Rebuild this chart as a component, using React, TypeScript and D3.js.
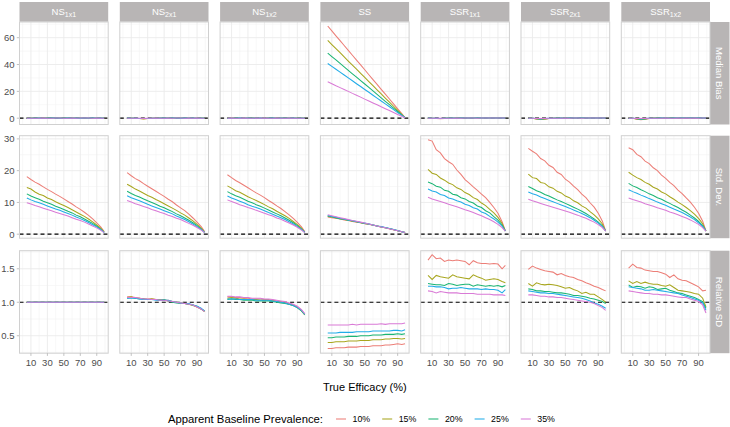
import React from "react";
import * as d3 from "d3";

// ---------- data ----------
const xs = [5, 10, 15, 20, 25, 30, 35, 40, 45, 50, 55, 60, 65, 70, 75, 80, 85, 90, 95, 99];
const panelNames = ["NS", "NS", "NS", "SS", "SSR", "SSR", "SSR"];
const panelSubs = ["1x1", "2x1", "1x2", "", "1x1", "2x1", "1x2"];
const rowNames = ["Median Bias", "Std. Dev.", "Relative SD"];
const prevalence = ["10%", "15%", "20%", "25%", "35%"];
const seriesColors = ["#EC7E77", "#A8A61E", "#1BB574", "#22ACE8", "#D97AD6"];

const yTicksBias = [0, 20, 40, 60];
const yTicksSD = [0, 10, 20, 30];
const yTicksRel = [0.5, 1.0, 1.5];
const xTicks = [10, 30, 50, 70, 90];

// Median Bias
const biasNS1x1 = [
  [0.1, 0.0, 0.1, 0.0, 0.1, 0.2, 0.1, 0.3, 0.2, 0.1, 0.0, 0.2, 0.1, 0.2, 0.1, 0.1, 0.0, 0.1, 0.1, 0.0],
  [0.0, 0.1, 0.0, 0.1, 0.2, 0.1, 0.3, 0.4, 0.3, 0.2, 0.1, 0.1, 0.2, 0.1, 0.0, 0.1, 0.1, 0.0, 0.1, 0.0],
  [-0.1, 0.0, 0.1, 0.0, 0.0, 0.1, 0.2, 0.1, 0.0, 0.1, 0.2, 0.1, 0.0, 0.1, 0.1, 0.0, 0.1, 0.1, 0.0, 0.0],
  [0.0, -0.1, 0.0, 0.1, 0.0, 0.0, 0.1, 0.2, 0.1, 0.0, 0.1, 0.0, 0.1, 0.0, 0.1, 0.2, 0.1, 0.0, 0.1, 0.0],
  [0.0, 0.0, -0.1, 0.0, 0.1, 0.0, 0.0, 0.1, 0.1, 0.0, 0.0, 0.1, 0.0, 0.1, 0.2, 0.1, 0.0, 0.1, 0.0, 0.0],
];
const biasNS2x1 = [
  [0.1, 0.0, -0.1, -0.2, -0.4, -0.3, -0.1, 0.0, 0.1, 0.0, 0.2, 0.1, 0.3, 0.2, 0.1, 0.1, 0.0, 0.1, 0.0, 0.0],
  [0.0, 0.1, -0.2, -0.3, -0.5, -0.2, 0.0, 0.1, 0.0, 0.1, 0.1, 0.2, 0.1, 0.1, 0.2, 0.0, 0.1, 0.0, 0.1, 0.0],
  [0.0, -0.1, -0.1, -0.2, -0.3, -0.2, -0.1, 0.0, 0.1, 0.0, 0.1, 0.1, 0.0, 0.2, 0.1, 0.1, 0.0, 0.0, 0.1, 0.0],
  [0.1, 0.0, 0.0, -0.2, -0.3, -0.2, 0.0, 0.0, 0.0, 0.1, 0.0, 0.1, 0.1, 0.0, 0.1, 0.0, 0.1, 0.0, 0.0, 0.0],
  [0.0, 0.0, -0.1, -0.1, -0.2, -0.1, 0.0, 0.1, 0.0, 0.0, 0.1, 0.0, 0.1, 0.1, 0.0, 0.1, 0.0, 0.1, 0.0, 0.0],
];
const biasNS1x2 = [
  [0.1, 0.2, 0.0, -0.1, 0.1, 0.2, 0.1, 0.0, 0.1, 0.2, 0.1, 0.0, 0.1, 0.2, 0.1, 0.0, 0.1, 0.0, 0.1, 0.0],
  [0.0, 0.1, 0.2, 0.0, -0.1, 0.1, 0.2, 0.1, 0.0, 0.1, 0.0, 0.1, 0.2, 0.1, 0.0, 0.1, 0.0, 0.1, 0.0, 0.0],
  [0.0, 0.0, 0.1, 0.1, 0.0, 0.0, 0.1, 0.1, 0.0, 0.0, 0.1, 0.1, 0.0, 0.0, 0.1, 0.1, 0.0, 0.0, 0.1, 0.0],
  [-0.1, 0.0, 0.0, 0.1, 0.0, 0.1, 0.0, 0.0, 0.1, 0.0, 0.0, 0.1, 0.0, 0.1, 0.0, 0.0, 0.1, 0.0, 0.0, 0.0],
  [0.0, 0.1, 0.0, 0.0, 0.1, 0.0, 0.0, 0.1, 0.0, 0.1, 0.0, 0.0, 0.1, 0.0, 0.0, 0.1, 0.0, 0.0, 0.0, 0.0],
];
const biasSS = [
  [68.7, 65.1, 61.4, 57.8, 54.2, 50.6, 46.9, 43.3, 39.7, 36.1, 32.4, 28.8, 25.2, 21.5, 17.9, 14.3, 10.7, 7.0, 3.4, 0.5],
  [58.0, 54.9, 51.9, 48.8, 45.7, 42.6, 39.6, 36.5, 33.4, 30.4, 27.3, 24.2, 21.2, 18.1, 15.0, 12.0, 8.9, 5.8, 2.8, 0.3],
  [48.5, 45.9, 43.4, 40.8, 38.3, 35.7, 33.1, 30.6, 28.0, 25.5, 22.9, 20.3, 17.8, 15.2, 12.6, 10.1, 7.5, 5.0, 2.4, 0.3],
  [40.8, 38.6, 36.5, 34.3, 32.2, 30.0, 27.9, 25.7, 23.6, 21.4, 19.3, 17.1, 15.0, 12.8, 10.7, 8.5, 6.4, 4.2, 2.1, 0.3],
  [27.1, 25.7, 24.2, 22.8, 21.4, 20.0, 18.5, 17.1, 15.7, 14.2, 12.8, 11.4, 10.0, 8.5, 7.1, 5.7, 4.3, 2.8, 1.4, 0.2],
];
const biasSSR1x1 = [
  [0.2, 0.0, -0.2, -0.4, -0.2, 0.1, 0.0, 0.2, 0.1, 0.3, 0.2, 0.1, 0.3, 0.2, 0.1, 0.2, 0.3, 0.2, 0.4, 0.3],
  [0.1, -0.1, -0.3, -0.3, -0.1, 0.0, 0.1, 0.1, 0.2, 0.1, 0.2, 0.2, 0.1, 0.2, 0.2, 0.1, 0.2, 0.3, 0.2, 0.2],
  [0.0, 0.0, -0.2, -0.2, 0.0, 0.1, 0.0, 0.1, 0.1, 0.2, 0.1, 0.1, 0.2, 0.1, 0.1, 0.2, 0.1, 0.2, 0.2, 0.1],
  [0.1, 0.0, -0.1, -0.2, 0.0, 0.0, 0.1, 0.0, 0.1, 0.1, 0.1, 0.2, 0.1, 0.1, 0.2, 0.1, 0.1, 0.1, 0.2, 0.1],
  [0.0, 0.0, -0.1, -0.1, 0.0, 0.0, 0.0, 0.1, 0.0, 0.1, 0.1, 0.1, 0.0, 0.1, 0.1, 0.1, 0.1, 0.1, 0.1, 0.1],
];
const biasSSR2x1 = [
  [0.2, 0.0, -0.6, -0.9, -0.7, -0.3, 0.0, 0.1, 0.0, 0.2, 0.1, 0.2, 0.1, 0.2, 0.3, 0.2, 0.3, 0.2, 0.3, 0.4],
  [0.1, -0.1, -0.5, -0.8, -0.6, -0.2, 0.0, 0.0, 0.1, 0.1, 0.2, 0.1, 0.2, 0.1, 0.2, 0.2, 0.1, 0.2, 0.2, 0.3],
  [0.0, -0.1, -0.4, -0.6, -0.4, -0.2, 0.0, 0.1, 0.0, 0.1, 0.1, 0.1, 0.1, 0.2, 0.1, 0.1, 0.2, 0.1, 0.2, 0.2],
  [0.0, 0.0, -0.3, -0.5, -0.3, -0.1, 0.0, 0.0, 0.1, 0.0, 0.1, 0.1, 0.1, 0.1, 0.1, 0.2, 0.1, 0.1, 0.1, 0.2],
  [0.0, 0.0, -0.2, -0.3, -0.2, -0.1, 0.0, 0.0, 0.0, 0.1, 0.0, 0.1, 0.1, 0.0, 0.1, 0.1, 0.1, 0.1, 0.1, 0.1],
];
const biasSSR1x2 = [
  [0.3, 0.0, -0.7, -1.1, -0.8, -0.2, 0.0, 0.2, 0.1, 0.2, 0.1, 0.2, 0.3, 0.2, 0.2, 0.3, 0.2, 0.3, 0.2, 0.3],
  [0.1, -0.1, -0.6, -0.9, -0.6, -0.2, 0.1, 0.1, 0.0, 0.1, 0.2, 0.1, 0.2, 0.2, 0.1, 0.2, 0.2, 0.1, 0.2, 0.2],
  [0.0, -0.1, -0.4, -0.7, -0.5, -0.1, 0.0, 0.1, 0.1, 0.0, 0.1, 0.1, 0.1, 0.1, 0.2, 0.1, 0.1, 0.2, 0.1, 0.2],
  [0.0, 0.0, -0.3, -0.5, -0.3, -0.1, 0.0, 0.0, 0.1, 0.1, 0.0, 0.1, 0.1, 0.1, 0.1, 0.1, 0.1, 0.1, 0.1, 0.1],
  [0.0, 0.0, -0.2, -0.3, -0.2, 0.0, 0.0, 0.0, 0.0, 0.1, 0.0, 0.0, 0.1, 0.0, 0.1, 0.0, 0.1, 0.0, 0.1, 0.1],
];

// Std. Dev.
const sdNS1x1 = [
  [18.1, 17.2, 16.4, 15.7, 14.9, 14.1, 13.4, 12.6, 11.9, 11.1, 10.3, 9.5, 8.6, 7.8, 6.9, 5.9, 4.8, 3.6, 2.2, 0.8],
  [14.7, 14.2, 13.3, 12.6, 12.2, 11.4, 10.9, 10.2, 9.6, 9.0, 8.4, 7.7, 7.0, 6.3, 5.6, 4.8, 3.9, 2.9, 1.8, 0.7],
  [12.7, 12.0, 11.5, 11.0, 10.4, 9.9, 9.4, 8.8, 8.3, 7.8, 7.2, 6.7, 6.0, 5.5, 4.8, 4.1, 3.4, 2.5, 1.5, 0.6],
  [11.4, 10.8, 10.3, 9.9, 9.4, 8.9, 8.4, 7.9, 7.5, 7.0, 6.5, 6.0, 5.4, 4.9, 4.3, 3.7, 3.0, 2.3, 1.4, 0.5],
  [9.9, 9.5, 9.0, 8.6, 8.2, 7.8, 7.4, 6.9, 6.5, 6.1, 5.7, 5.2, 4.7, 4.3, 3.8, 3.2, 2.6, 2.0, 1.2, 0.5],
];
const sdNS2x1 = [
  [19.4, 18.4, 17.5, 16.8, 15.9, 15.1, 14.3, 13.5, 12.7, 11.9, 11.0, 10.2, 9.2, 8.3, 7.4, 6.3, 5.1, 3.8, 2.4, 0.9],
  [15.7, 15.0, 14.2, 13.6, 12.9, 12.2, 11.6, 10.9, 10.3, 9.6, 8.9, 8.2, 7.5, 6.7, 6.0, 5.1, 4.2, 3.1, 1.9, 0.7],
  [13.5, 12.8, 12.2, 11.7, 11.1, 10.5, 10.0, 9.4, 8.8, 8.3, 7.7, 7.1, 6.4, 5.8, 5.1, 4.4, 3.6, 2.7, 1.6, 0.6],
  [12.1, 11.5, 11.0, 10.5, 10.0, 9.4, 8.9, 8.4, 7.9, 7.4, 6.9, 6.4, 5.7, 5.2, 4.6, 3.9, 3.2, 2.4, 1.5, 0.6],
  [10.6, 10.1, 9.6, 9.2, 8.7, 8.3, 7.8, 7.4, 6.9, 6.5, 6.0, 5.6, 5.0, 4.6, 4.0, 3.4, 2.8, 2.1, 1.3, 0.5],
];
const sdNS1x2 = [
  [18.7, 17.8, 16.9, 16.2, 15.4, 14.6, 13.8, 13.0, 12.3, 11.5, 10.6, 9.8, 8.9, 8.1, 7.1, 6.1, 5.0, 3.7, 2.3, 0.8],
  [15.2, 14.5, 13.7, 13.2, 12.5, 11.8, 11.2, 10.6, 10.0, 9.3, 8.6, 8.0, 7.2, 6.5, 5.8, 5.0, 4.0, 3.0, 1.9, 0.7],
  [13.4, 12.7, 12.1, 11.6, 11.0, 10.4, 9.9, 9.3, 8.8, 8.2, 7.6, 7.0, 6.4, 5.8, 5.1, 4.4, 3.6, 2.7, 1.6, 0.6],
  [12.0, 11.4, 10.9, 10.4, 9.9, 9.3, 8.8, 8.4, 7.9, 7.4, 6.8, 6.3, 5.7, 5.2, 4.6, 3.9, 3.2, 2.4, 1.5, 0.6],
  [10.8, 10.3, 9.8, 9.3, 8.9, 8.4, 8.0, 7.5, 7.1, 6.6, 6.1, 5.7, 5.1, 4.7, 4.1, 3.5, 2.9, 2.2, 1.3, 0.5],
];
const sdSS = [
  [5.4, 5.2, 5.0, 4.8, 4.5, 4.3, 4.0, 3.8, 3.6, 3.3, 3.1, 2.8, 2.6, 2.3, 2.0, 1.7, 1.4, 1.1, 0.8, 0.5],
  [5.6, 5.4, 5.1, 4.9, 4.6, 4.4, 4.1, 3.9, 3.6, 3.4, 3.1, 2.9, 2.6, 2.3, 2.0, 1.7, 1.4, 1.1, 0.8, 0.5],
  [5.7, 5.5, 5.2, 4.9, 4.7, 4.4, 4.2, 3.9, 3.7, 3.4, 3.2, 2.9, 2.6, 2.3, 2.0, 1.8, 1.5, 1.1, 0.8, 0.5],
  [5.9, 5.6, 5.3, 5.0, 4.8, 4.5, 4.2, 4.0, 3.7, 3.5, 3.2, 2.9, 2.6, 2.4, 2.1, 1.8, 1.5, 1.2, 0.8, 0.5],
  [6.1, 5.8, 5.5, 5.2, 4.9, 4.6, 4.3, 4.1, 3.8, 3.5, 3.2, 2.9, 2.6, 2.3, 2.0, 1.7, 1.4, 1.1, 0.8, 0.5],
];
const sdSSR1x1 = [
  [29.7, 29.3, 26.6, 25.6, 23.8, 22.8, 22.0, 20.2, 18.8, 17.2, 16.1, 14.9, 13.8, 12.6, 11.5, 10.0, 8.4, 6.6, 3.9, 1.0],
  [20.4, 19.2, 18.8, 17.7, 17.0, 16.1, 15.6, 14.6, 14.1, 13.1, 12.5, 11.5, 10.9, 9.8, 9.0, 7.8, 6.7, 5.3, 3.4, 1.0],
  [16.4, 15.9, 15.1, 14.8, 13.8, 13.5, 12.6, 12.3, 11.5, 11.1, 10.3, 9.8, 8.9, 8.4, 7.4, 6.7, 5.5, 4.4, 2.9, 1.0],
  [14.2, 13.6, 13.3, 12.5, 12.2, 11.4, 11.1, 10.5, 10.1, 9.4, 9.0, 8.3, 7.9, 7.0, 6.5, 5.6, 4.8, 3.8, 2.5, 1.0],
  [11.6, 11.1, 10.7, 10.3, 9.9, 9.4, 9.0, 8.6, 8.2, 7.7, 7.3, 6.8, 6.3, 5.8, 5.2, 4.6, 3.9, 3.1, 2.1, 1.0],
];
const sdSSR2x1 = [
  [27.0, 26.1, 25.3, 23.8, 23.1, 21.7, 21.0, 19.5, 18.8, 17.3, 16.4, 15.1, 14.0, 12.6, 11.5, 9.9, 8.5, 6.6, 4.1, 1.0],
  [18.9, 17.8, 17.5, 16.3, 16.0, 14.9, 14.5, 13.5, 13.0, 12.0, 11.5, 10.5, 9.9, 8.9, 8.2, 7.1, 6.1, 4.8, 3.2, 1.0],
  [15.0, 14.4, 13.7, 13.2, 12.5, 12.0, 11.4, 10.8, 10.3, 9.7, 9.1, 8.5, 7.9, 7.2, 6.5, 5.7, 4.8, 3.8, 2.6, 1.0],
  [13.3, 12.7, 12.3, 11.7, 11.2, 10.7, 10.2, 9.7, 9.2, 8.7, 8.2, 7.6, 7.1, 6.5, 5.9, 5.2, 4.4, 3.5, 2.4, 1.0],
  [11.0, 10.5, 10.1, 9.7, 9.3, 8.9, 8.5, 8.1, 7.7, 7.3, 6.9, 6.4, 6.0, 5.5, 5.0, 4.4, 3.8, 3.0, 2.1, 1.0],
];
const sdSSR1x2 = [
  [27.2, 26.6, 25.1, 24.4, 23.0, 22.2, 20.9, 20.0, 18.6, 17.6, 16.3, 15.3, 13.9, 12.8, 11.4, 10.1, 8.5, 6.6, 4.1, 1.0],
  [19.5, 18.6, 17.8, 17.2, 16.3, 15.7, 14.8, 14.2, 13.3, 12.7, 11.8, 11.0, 10.1, 9.3, 8.4, 7.4, 6.3, 5.0, 3.3, 1.0],
  [16.0, 15.2, 14.7, 14.0, 13.4, 12.7, 12.2, 11.5, 11.0, 10.3, 9.7, 9.0, 8.4, 7.6, 6.9, 6.0, 5.1, 4.0, 2.7, 1.0],
  [14.0, 13.4, 12.9, 12.3, 11.8, 11.2, 10.7, 10.1, 9.6, 9.1, 8.5, 7.9, 7.4, 6.8, 6.1, 5.4, 4.6, 3.6, 2.5, 1.0],
  [11.4, 10.9, 10.5, 10.1, 9.6, 9.2, 8.8, 8.3, 7.9, 7.5, 7.0, 6.6, 6.1, 5.6, 5.1, 4.5, 3.8, 3.1, 2.1, 1.0],
];

// Relative SD
const relNS1x1 = [
  [1, 1, 1, 1, 1, 1, 1, 1, 1, 1, 1, 1, 1, 1, 1, 1, 1, 1, 1, 1],
  [1, 1, 1, 1, 1, 1, 1, 1, 1, 1, 1, 1, 1, 1, 1, 1, 1, 1, 1, 1],
  [1, 1, 1, 1, 1, 1, 1, 1, 1, 1, 1, 1, 1, 1, 1, 1, 1, 1, 1, 1],
  [1, 1, 1, 1, 1, 1, 1, 1, 1, 1, 1, 1, 1, 1, 1, 1, 1, 1, 1, 1],
  [1, 1, 1, 1, 1, 1, 1, 1, 1, 1, 1, 1, 1, 1, 1, 1, 1, 1, 1, 1],
];
const relNS2x1 = [
  [1.08, 1.08, 1.07, 1.06, 1.05, 1.05, 1.05, 1.04, 1.04, 1.03, 1.03, 1.01, 1.00, 0.99, 0.98, 0.97, 0.96, 0.93, 0.90, 0.87],
  [1.07, 1.08, 1.06, 1.06, 1.05, 1.04, 1.05, 1.04, 1.03, 1.03, 1.02, 1.01, 1.00, 0.99, 0.98, 0.97, 0.95, 0.93, 0.90, 0.86],
  [1.06, 1.07, 1.06, 1.05, 1.05, 1.04, 1.04, 1.04, 1.03, 1.04, 1.02, 1.00, 0.99, 0.98, 0.98, 0.97, 0.96, 0.94, 0.90, 0.87],
  [1.06, 1.06, 1.06, 1.05, 1.04, 1.04, 1.04, 1.03, 1.03, 1.03, 1.03, 1.01, 1.00, 0.99, 0.98, 0.98, 0.96, 0.94, 0.91, 0.87],
  [1.07, 1.07, 1.07, 1.06, 1.05, 1.05, 1.04, 1.04, 1.03, 1.03, 1.02, 1.01, 1.00, 0.99, 0.98, 0.97, 0.96, 0.93, 0.90, 0.86],
];
const relNS1x2 = [
  [1.08, 1.08, 1.07, 1.07, 1.06, 1.06, 1.05, 1.05, 1.05, 1.04, 1.04, 1.03, 1.02, 1.01, 1.00, 0.98, 0.96, 0.93, 0.88, 0.82],
  [1.06, 1.07, 1.06, 1.05, 1.05, 1.04, 1.04, 1.04, 1.03, 1.03, 1.03, 1.02, 1.01, 1.00, 0.99, 0.97, 0.95, 0.92, 0.87, 0.81],
  [1.04, 1.05, 1.04, 1.04, 1.03, 1.03, 1.03, 1.02, 1.02, 1.02, 1.02, 1.01, 1.00, 0.99, 0.98, 0.97, 0.95, 0.92, 0.87, 0.82],
  [1.05, 1.05, 1.05, 1.04, 1.04, 1.04, 1.04, 1.03, 1.03, 1.03, 1.03, 1.02, 1.01, 1.00, 0.99, 0.97, 0.95, 0.92, 0.88, 0.82],
  [1.09, 1.09, 1.08, 1.08, 1.07, 1.07, 1.06, 1.06, 1.06, 1.05, 1.05, 1.04, 1.03, 1.02, 1.01, 0.99, 0.97, 0.94, 0.89, 0.83],
];
const relSS = [
  [0.31, 0.31, 0.32, 0.32, 0.32, 0.33, 0.33, 0.33, 0.34, 0.34, 0.34, 0.35, 0.35, 0.35, 0.36, 0.36, 0.37, 0.38, 0.37, 0.38],
  [0.40, 0.40, 0.41, 0.41, 0.41, 0.42, 0.42, 0.42, 0.43, 0.43, 0.43, 0.44, 0.44, 0.44, 0.45, 0.45, 0.46, 0.46, 0.45, 0.46],
  [0.47, 0.47, 0.48, 0.48, 0.48, 0.49, 0.49, 0.49, 0.50, 0.50, 0.50, 0.51, 0.51, 0.51, 0.52, 0.52, 0.52, 0.53, 0.52, 0.53],
  [0.54, 0.54, 0.54, 0.55, 0.55, 0.55, 0.55, 0.56, 0.56, 0.56, 0.56, 0.57, 0.57, 0.57, 0.57, 0.57, 0.58, 0.58, 0.57, 0.59],
  [0.66, 0.66, 0.66, 0.66, 0.66, 0.66, 0.67, 0.66, 0.67, 0.67, 0.67, 0.67, 0.67, 0.68, 0.67, 0.68, 0.68, 0.68, 0.68, 0.69],
];
const relSSR1x1 = [
  [1.63, 1.71, 1.65, 1.66, 1.61, 1.63, 1.62, 1.63, 1.62, 1.61, 1.56, 1.62, 1.59, 1.58, 1.58, 1.57, 1.58, 1.57, 1.50, 1.55],
  [1.40, 1.34, 1.40, 1.38, 1.37, 1.36, 1.41, 1.38, 1.37, 1.36, 1.35, 1.41, 1.38, 1.36, 1.33, 1.34, 1.35, 1.34, 1.31, 1.29],
  [1.28, 1.27, 1.26, 1.26, 1.25, 1.28, 1.27, 1.25, 1.26, 1.27, 1.27, 1.24, 1.26, 1.25, 1.24, 1.25, 1.24, 1.25, 1.23, 1.25],
  [1.24, 1.24, 1.23, 1.23, 1.22, 1.20, 1.21, 1.21, 1.22, 1.21, 1.20, 1.20, 1.20, 1.19, 1.20, 1.19, 1.19, 1.18, 1.14, 1.19],
  [1.17, 1.16, 1.14, 1.16, 1.15, 1.14, 1.14, 1.14, 1.13, 1.13, 1.13, 1.13, 1.12, 1.12, 1.12, 1.12, 1.11, 1.11, 1.11, 1.10],
];
const relSSR2x1 = [
  [1.49, 1.54, 1.51, 1.49, 1.47, 1.46, 1.45, 1.41, 1.43, 1.40, 1.38, 1.37, 1.34, 1.32, 1.29, 1.27, 1.24, 1.22, 1.19, 1.17],
  [1.28, 1.24, 1.29, 1.27, 1.26, 1.27, 1.26, 1.25, 1.23, 1.21, 1.22, 1.19, 1.17, 1.13, 1.15, 1.12, 1.12, 1.08, 1.04, 1.00],
  [1.20, 1.19, 1.17, 1.17, 1.16, 1.16, 1.15, 1.14, 1.14, 1.13, 1.12, 1.10, 1.10, 1.09, 1.08, 1.06, 1.05, 1.03, 1.01, 0.98],
  [1.17, 1.16, 1.15, 1.14, 1.14, 1.13, 1.13, 1.12, 1.11, 1.10, 1.09, 1.08, 1.07, 1.06, 1.04, 1.02, 0.99, 0.97, 0.94, 0.91],
  [1.11, 1.11, 1.10, 1.09, 1.09, 1.08, 1.08, 1.07, 1.07, 1.06, 1.05, 1.04, 1.03, 1.02, 1.01, 1.00, 0.98, 0.95, 0.92, 0.88],
];
const relSSR1x2 = [
  [1.51, 1.57, 1.52, 1.51, 1.48, 1.47, 1.46, 1.46, 1.44, 1.42, 1.37, 1.41, 1.35, 1.33, 1.32, 1.29, 1.26, 1.23, 1.17, 1.18],
  [1.32, 1.28, 1.31, 1.28, 1.30, 1.28, 1.27, 1.27, 1.25, 1.24, 1.26, 1.22, 1.18, 1.17, 1.16, 1.15, 1.13, 1.12, 1.06, 0.93],
  [1.26, 1.22, 1.24, 1.23, 1.21, 1.23, 1.22, 1.19, 1.20, 1.21, 1.18, 1.16, 1.14, 1.13, 1.11, 1.09, 1.07, 1.04, 1.01, 0.91],
  [1.23, 1.22, 1.21, 1.20, 1.18, 1.18, 1.19, 1.18, 1.17, 1.16, 1.15, 1.14, 1.13, 1.11, 1.09, 1.07, 1.05, 1.03, 0.99, 0.88],
  [1.17, 1.16, 1.15, 1.14, 1.13, 1.13, 1.12, 1.12, 1.11, 1.11, 1.10, 1.09, 1.08, 1.07, 1.07, 1.05, 1.03, 1.01, 0.96, 0.84],
];

const gridData = [
  [biasNS1x1, biasNS2x1, biasNS1x2, biasSS, biasSSR1x1, biasSSR2x1, biasSSR1x2],
  [sdNS1x1, sdNS2x1, sdNS1x2, sdSS, sdSSR1x1, sdSSR2x1, sdSSR1x2],
  [relNS1x1, relNS2x1, relNS1x2, relSS, relSSR1x1, relSSR2x1, relSSR1x2],
];

// ---------- layout ----------
const W = 730;
const H = 427;
const panelLeft0 = 19.5;
const panelStep = 100.3;
const panelW = 88.7;
const rowTops = [22, 135.7, 250.7];
const panelH = 102.5;
const stripTop = 2;
const stripH = 19.7;
const font = "'Liberation Sans', Arial, Helvetica, sans-serif";

const yDomains: [number, number][] = [
  [-4.7, 71.7],
  [-1.26, 31.0],
  [0.239, 1.77],
];
const yTickSets = [yTicksBias, yTicksSD, yTicksRel];
const yMinorSets = [[10, 30, 50, 70], [5, 15, 25], [0.25, 0.75, 1.25, 1.75]];
const xMinor = [0, 20, 40, 60, 80, 100];
const refLines = [0, 0, 1];

export default function App() {
  const x = d3.scaleLinear().domain([-3.9, 103.9]).range([0, panelW]);
  const gridCol = "#ebebeb";
  const minorCol = "#f4f4f4";
  const borderCol = "#d0d0d0";
  const stripCol = "#b8b5b5";
  const textCol = "#4d4d4d";

  const fmt = (r: number, v: number) => (r === 2 ? v.toFixed(1) : String(v));

  return (
    <svg
      width={W}
      height={H}
      style={{ position: "absolute", left: 0, top: 0, background: "#fff" }}
      fontFamily={font}
    >
      <rect x={0} y={0} width={W} height={H} fill="#ffffff" />
      {/* column strips */}
      {panelNames.map((nm, c) => {
        const left = panelLeft0 + c * panelStep;
        return (
          <g key={"strip" + c}>
            <rect x={left} y={stripTop} width={panelW} height={stripH} fill={stripCol} />
            <text
              x={left + panelW / 2}
              y={stripTop + stripH / 2 + 3.3}
              textAnchor="middle"
              fill="#ffffff"
              fontSize={9.5}
            >
              <tspan>{nm}</tspan>
              {panelSubs[c] ? (
                <tspan fontSize={7} dy={2}>
                  {panelSubs[c]}
                </tspan>
              ) : null}
            </text>
          </g>
        );
      })}
      {/* rows */}
      {rowNames.map((rn, r) => {
        const top = rowTops[r];
        const y = d3.scaleLinear().domain(yDomains[r]).range([top + panelH, top]);
        const line = d3
          .line<number>()
          .x((_, i) => x(xs[i]))
          .y((v) => y(v));
        const stripX = panelLeft0 + 6 * panelStep + panelW;
        return (
          <g key={"row" + r}>
            {/* right strip */}
            <rect x={stripX} y={top} width={19.5} height={panelH} fill={stripCol} />
            <text
              transform={`translate(${stripX + 9.75 - 3.3},${top + panelH / 2}) rotate(90)`}
              textAnchor="middle"
              fill="#ffffff"
              fontSize={9.5}
            >
              {rn}
            </text>
            {/* y axis labels and ticks */}
            {yTickSets[r].map((t) => (
              <g key={"yt" + t}>
                <text
                  x={panelLeft0 - 5}
                  y={y(t) + 3.4}
                  textAnchor="end"
                  fill={textCol}
                  fontSize={9.5}
                >
                  {fmt(r, t)}
                </text>
                <line
                  x1={panelLeft0 - 2.7}
                  x2={panelLeft0}
                  y1={y(t)}
                  y2={y(t)}
                  stroke="#b3b3b3"
                  strokeWidth={0.8}
                />
              </g>
            ))}
            {panelNames.map((_, c) => {
              const left = panelLeft0 + c * panelStep;
              const series = gridData[r][c];
              return (
                <g key={"p" + c} transform={`translate(${left},0)`}>
                  <rect x={0} y={top} width={panelW} height={panelH} fill="#ffffff" />
                  {yMinorSets[r].map((t) => (
                    <line
                      key={"ym" + t}
                      x1={0}
                      x2={panelW}
                      y1={y(t)}
                      y2={y(t)}
                      stroke={minorCol}
                      strokeWidth={0.6}
                    />
                  ))}
                  {xMinor.map((t) => (
                    <line
                      key={"xm" + t}
                      x1={x(t)}
                      x2={x(t)}
                      y1={top}
                      y2={top + panelH}
                      stroke={minorCol}
                      strokeWidth={0.6}
                    />
                  ))}
                  {yTickSets[r].map((t) => (
                    <line
                      key={"yg" + t}
                      x1={0}
                      x2={panelW}
                      y1={y(t)}
                      y2={y(t)}
                      stroke={gridCol}
                      strokeWidth={0.9}
                    />
                  ))}
                  {xTicks.map((t) => (
                    <line
                      key={"xg" + t}
                      x1={x(t)}
                      x2={x(t)}
                      y1={top}
                      y2={top + panelH}
                      stroke={gridCol}
                      strokeWidth={0.9}
                    />
                  ))}
                  <line
                    x1={0}
                    x2={panelW}
                    y1={y(refLines[r])}
                    y2={y(refLines[r])}
                    stroke="#000000"
                    strokeWidth={1.2}
                    strokeDasharray="4,3"
                  />
                  {series.map((vals, s) => (
                    <path
                      key={"s" + s}
                      d={line(vals) || ""}
                      fill="none"
                      stroke={seriesColors[s]}
                      strokeWidth={1.05}
                    />
                  ))}
                  <rect
                    x={0}
                    y={top}
                    width={panelW}
                    height={panelH}
                    fill="none"
                    stroke={borderCol}
                    strokeWidth={1}
                  />
                  {r === 2
                    ? xTicks.map((t) => (
                        <g key={"xt" + t}>
                          <line
                            x1={x(t)}
                            x2={x(t)}
                            y1={top + panelH}
                            y2={top + panelH + 2.7}
                            stroke="#b3b3b3"
                            strokeWidth={0.8}
                          />
                          <text
                            x={x(t)}
                            y={top + panelH + 12.4}
                            textAnchor="middle"
                            fill={textCol}
                            fontSize={9.5}
                          >
                            {t}
                          </text>
                        </g>
                      ))
                    : null}
                </g>
              );
            })}
          </g>
        );
      })}
      {/* axis title */}
      <text
        x={panelLeft0 + (6 * panelStep + panelW) / 2}
        y={390.5}
        textAnchor="middle"
        fill="#000"
        fontSize={11}
      >
        True Efficacy (%)
      </text>
      {/* legend */}
      <text x={323} y={422.5} textAnchor="end" fill="#000" fontSize={11.3}>
        Apparent Baseline Prevalence:
      </text>
      {prevalence.map((p, i) => {
        const kx = 336 + i * 46.2;
        return (
          <g key={"lg" + i}>
            <line
              x1={kx}
              x2={kx + 10}
              y1={419}
              y2={419}
              stroke={seriesColors[i]}
              strokeWidth={1.05}
            />
            <text x={kx + 16.5} y={422} fill="#000" fontSize={8.8}>
              {p}
            </text>
          </g>
        );
      })}
    </svg>
  );
}
